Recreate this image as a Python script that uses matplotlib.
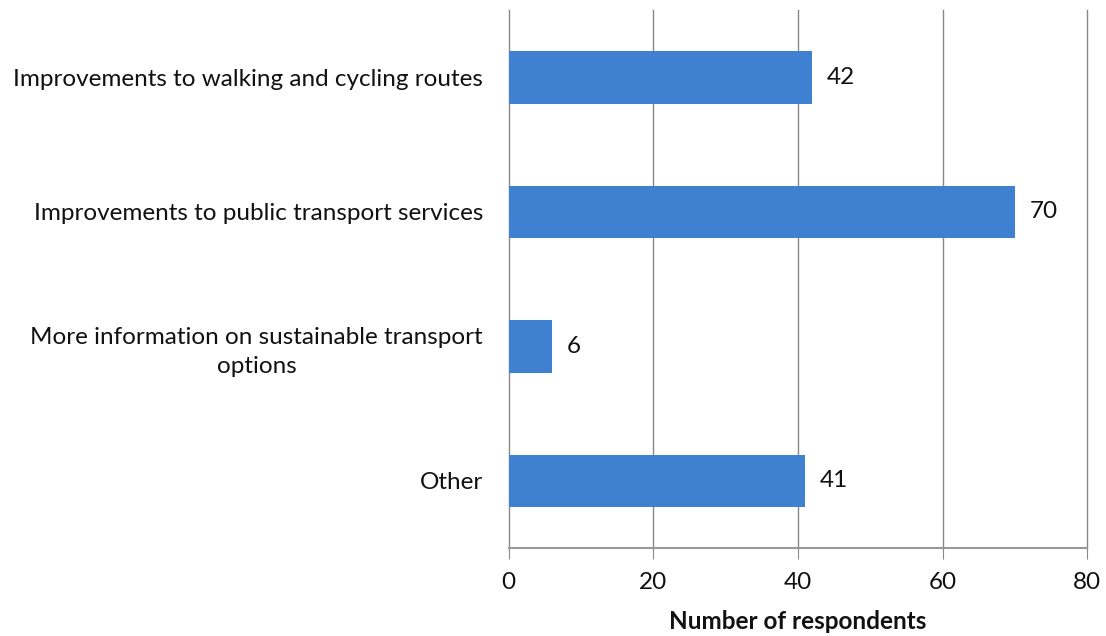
import matplotlib
matplotlib.use('Agg')
import matplotlib.pyplot as plt

plt.rcParams['font.family'] = ['Lato', 'DejaVu Sans']

categories = ['Improvements to walking and cycling routes',
              'Improvements to public transport services',
              'More information on sustainable transport\noptions',
              'Other']
values = [42, 70, 6, 41]
xticks = [0, 20, 40, 60, 80]

fig = plt.figure(figsize=(11.06, 6.36), dpi=100)
ax = fig.add_axes([0.460, 0.138, 0.523, 0.846])

ypos = list(range(len(categories)))
ax.barh(ypos, values, height=0.39, color='#3F80D0', zorder=3)
for y, v in zip(ypos, values):
    ax.text(v + 2, y, str(v), va='center', ha='left', fontsize=17.5, color='#111111')

ax.set_ylim(3.5, -0.5)
ax.set_xlim(0, 80)
ax.set_xticks(xticks)
ax.set_yticks(ypos)
ax.set_yticklabels(categories, fontsize=17.5, color='#111111', ha='right',
                   multialignment='center', linespacing=1.45)
ax.tick_params(axis='y', length=0, pad=18.5)
ax.tick_params(axis='x', length=8, color='#888888', labelsize=17.5, labelcolor='#111111', pad=9)
ax.xaxis.grid(True, color='#888888', linewidth=1.0, zorder=0)
for line in ax.get_xgridlines():
    line.set_clip_on(False)
for s in ['top', 'right', 'left']:
    ax.spines[s].set_visible(False)
ax.spines['bottom'].set_color('#999999')
ax.spines['bottom'].set_linewidth(1.5)
ax.set_xlabel('Number of respondents', fontsize=17.5, fontweight='bold', color='#111111', labelpad=12)

fig.savefig('out.png', dpi=100)
